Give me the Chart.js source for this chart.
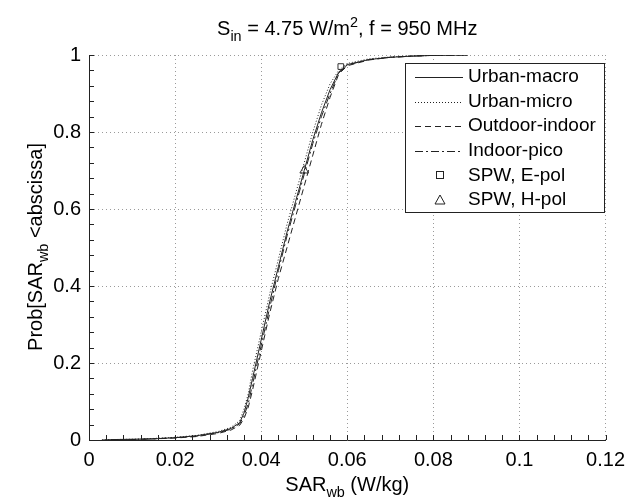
<!DOCTYPE html>
<html><head><meta charset="utf-8">
<script src="https://cdn.jsdelivr.net/npm/chart.js@4.4.0/dist/chart.umd.min.js"></script>
<style>html,body{margin:0;padding:0;background:#fff;} #wrap{width:633px;height:501px;position:relative;}</style>
</head><body><div id="wrap"><canvas id="c" width="633" height="501"></canvas></div>
<script>
const FONT = '"Liberation Sans", Arial, Helvetica, sans-serif';

// ---- data ----
const sarValues   = [0.003,0.005,0.01,0.015,0.02,0.025,0.03,0.033,0.035,0.036,0.037,0.038,0.04,0.042,0.044,0.046,0.048,0.05,0.052,0.054,0.056,0.058,0.06,0.065,0.07,0.075,0.08,0.088];
const urbanMacro  = [0,0.001,0.002,0.003,0.006,0.011,0.02,0.03,0.045,0.07,0.11,0.16,0.26,0.36,0.45,0.54,0.62,0.70,0.78,0.85,0.91,0.955,0.975,0.988,0.994,0.997,0.999,1.0];
const urbanMicro  = [0,0.001,0.002,0.004,0.007,0.012,0.022,0.033,0.05,0.08,0.12,0.18,0.28,0.38,0.47,0.56,0.64,0.72,0.80,0.87,0.925,0.96,0.978,0.99,0.995,0.998,0.999,1.0];
const outdoorIndoor = [null,0,0.001,0.003,0.005,0.009,0.017,0.026,0.038,0.055,0.085,0.13,0.23,0.33,0.42,0.50,0.58,0.66,0.74,0.82,0.89,0.95,0.972,0.987,0.994,0.997,0.999,1.0];
const indoorPico  = [null,0,0.001,0.003,0.006,0.010,0.019,0.028,0.042,0.062,0.095,0.145,0.245,0.345,0.44,0.53,0.61,0.69,0.77,0.84,0.90,0.953,0.974,0.988,0.994,0.997,0.999,1.0];
const spwEpolX = [0.0585];
const spwEpolY = [0.97];
const spwHpolX = [0.050];
const spwHpolY = [0.70];
const seriesLabels = ['Urban-macro','Urban-micro','Outdoor-indoor','Indoor-pico','SPW, E-pol','SPW, H-pol'];
const xTickLabels = ['0','0.02','0.04','0.06','0.08','0.1','0.12'];
const yTickLabels = ['0','0.2','0.4','0.6','0.8','1'];

const toPts = (xs, ys) => xs.map((x, i) => ({x: x, y: ys[i]})).filter(p => p.y !== null);

const lineStyles = [[], [1,2], [6,4], [8,3,2,3]];
const lineSeries = [urbanMacro, urbanMicro, outdoorIndoor, indoorPico];
const datasets = lineSeries.map((ys, i) => ({
  label: seriesLabels[i], data: toPts(sarValues, ys), borderColor: '#222', borderWidth: 1,
  borderDash: lineStyles[i], pointRadius: 0, tension: 0, fill: false, showLine: true
}));
datasets.push({label: seriesLabels[4], data: toPts(spwEpolX, spwEpolY), showLine: false,
  pointStyle: 'rect', pointRadius: 4, borderColor: '#333', backgroundColor: 'rgba(0,0,0,0)', borderWidth: 1});
datasets.push({label: seriesLabels[5], data: toPts(spwHpolX, spwHpolY), showLine: false,
  pointStyle: 'triangle', pointRadius: 5, borderColor: '#333', backgroundColor: 'rgba(0,0,0,0)', borderWidth: 1});

function drawRich(ctx, parts, fs) {
  let w = 0;
  parts.forEach(p => { ctx.font = (p.s ? fs*0.72 : fs) + 'px ' + FONT; w += ctx.measureText(p.t).width; });
  let x = -w/2;
  parts.forEach(p => {
    ctx.font = (p.s ? fs*0.72 : fs) + 'px ' + FONT;
    const dy = p.s === 'sub' ? fs*0.32 : (p.s === 'sup' ? -fs*0.42 : 0);
    ctx.fillText(p.t, x, dy);
    x += ctx.measureText(p.t).width;
  });
}

const decor = {
  id: 'decor',
  afterDraw(chart) {
    const ctx = chart.ctx, a = chart.chartArea;
    const xs = chart.scales.x, ys = chart.scales.y;
    ctx.save();
    // minor ticks
    ctx.strokeStyle = '#222'; ctx.lineWidth = 1; ctx.setLineDash([]);
    ctx.beginPath();
    for (let i = 0; i <= 30; i++) { const px = Math.round(xs.getPixelForValue(i*0.004)) + 0.5; ctx.moveTo(px, a.bottom); ctx.lineTo(px, a.bottom - 5); }
    for (let i = 0; i <= 25; i++) { const py = Math.round(ys.getPixelForValue(i*0.04)) + 0.5; ctx.moveTo(a.left, py); ctx.lineTo(a.left + 5, py); }
    ctx.stroke();
    // legend
    const L = {x: 405, y: 63, w: 199, h: 149, row: 24.6};
    ctx.fillStyle = '#fff'; ctx.fillRect(L.x, L.y, L.w, L.h);
    ctx.strokeStyle = '#222'; ctx.strokeRect(L.x + 0.5, L.y + 0.5, L.w, L.h);
    ctx.font = '19px ' + FONT; ctx.textBaseline = 'middle'; ctx.fillStyle = '#000';
    chart.data.datasets.forEach((d, i) => {
      const cy = L.y + 14 + i * L.row;
      ctx.strokeStyle = '#222'; ctx.lineWidth = 1;
      if (d.showLine !== false) {
        ctx.setLineDash(d.borderDash || []);
        ctx.beginPath(); ctx.moveTo(415, Math.round(cy) + 0.5); ctx.lineTo(463, Math.round(cy) + 0.5); ctx.stroke();
        ctx.setLineDash([]);
      } else if (d.pointStyle === 'rect') {
        ctx.strokeRect(436.5, Math.round(cy) - 3.5, 7, 7);
      } else {
        ctx.beginPath(); ctx.moveTo(440, cy - 5); ctx.lineTo(445, cy + 4); ctx.lineTo(435, cy + 4); ctx.closePath(); ctx.stroke();
      }
      ctx.fillText(d.label, 468, cy);
    });
    // title & axis labels
    ctx.fillStyle = '#000'; ctx.textBaseline = 'alphabetic'; ctx.textAlign = 'left';
    const cx = (a.left + a.right) / 2;
    ctx.save(); ctx.translate(cx, 35);
    drawRich(ctx, [{t:'S'},{t:'in',s:'sub'},{t:' = 4.75 W/m'},{t:'2',s:'sup'},{t:', f = 950 MHz'}], 20);
    ctx.restore();
    ctx.save(); ctx.translate(cx, 491);
    drawRich(ctx, [{t:'SAR'},{t:'wb',s:'sub'},{t:' (W/kg)'}], 20);
    ctx.restore();
    ctx.save(); ctx.translate(42, 247); ctx.rotate(-Math.PI/2);
    drawRich(ctx, [{t:'Prob[SAR'},{t:'wb',s:'sub'},{t:' <abscissa]'}], 20);
    ctx.restore();
    ctx.restore();
  }
};

new Chart(document.getElementById('c'), {
  type: 'line',
  data: {datasets: datasets},
  options: {
    responsive: false, animation: false, devicePixelRatio: 1,
    layout: {padding: {left: 0, right: 23, top: 55, bottom: 0}},
    plugins: {legend: {display: false}, title: {display: false}, tooltip: {enabled: false}},
    scales: {
      x: {type: 'linear', min: 0, max: 0.12,
        afterFit: s => { s.height = 61; },
        ticks: {stepSize: 0.02, color: '#000', font: {family: FONT, size: 20}, padding: 8, maxRotation: 0,
          callback: (v, i) => xTickLabels[i]},
        grid: {color: '#9a9a9a', drawTicks: false, lineWidth: 1},
        border: {display: true, color: '#222', width: 1, dash: [1,3]}},
      y: {type: 'linear', min: 0, max: 1,
        afterFit: s => { s.width = 89; },
        ticks: {stepSize: 0.2, color: '#000', font: {family: FONT, size: 20}, padding: 8,
          callback: (v, i) => yTickLabels[i]},
        grid: {color: '#9a9a9a', drawTicks: false, lineWidth: 1},
        border: {display: true, color: '#222', width: 1, dash: [1,3]}}
    }
  },
  plugins: [decor]
});
</script></body></html>
